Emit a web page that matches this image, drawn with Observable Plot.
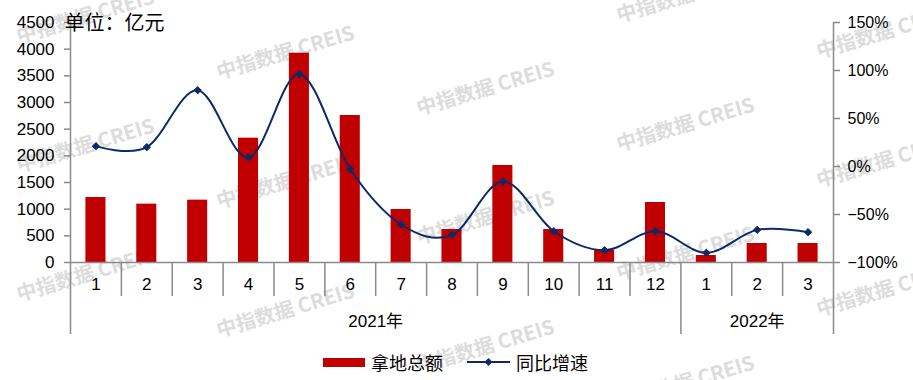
<!DOCTYPE html>
<html>
<head>
<meta charset="utf-8">
<script src="https://cdn.jsdelivr.net/npm/d3@7"></script>
<script src="https://cdn.jsdelivr.net/npm/@observablehq/plot@0.6"></script>
<style>
  html, body { margin: 0; padding: 0; background: #fff; }
  #wrap { position: relative; width: 913px; height: 380px; overflow: hidden; }
  #wm { position: absolute; left: 0; top: 0; width: 913px; height: 380px; z-index: 0; pointer-events: none; }
  #wm span { position: absolute; white-space: nowrap; transform: translate(-50%, -50%) rotate(-16.5deg);
    font: bold 20px "Noto Sans CJK SC", "Liberation Sans", sans-serif; color: #dcdcdc; }
  #chart { position: relative; z-index: 1; }
  #legend { position: absolute; left: 323px; top: 350px; height: 24px; z-index: 1; display: flex; align-items: center;
    font: 18px "Noto Sans CJK SC", sans-serif; color: #000; }
  #legend .sw { display: inline-block; width: 42px; height: 9px; background: #c00000; margin-right: 6px; }
  #legend .txt { margin-right: 24px; }
</style>
</head>
<body>
<div id="wrap">
  <div id="wm"></div>
  <div id="chart"></div>
  <div id="legend"></div>
</div>
<script>
// ---- data ----
const months = ["1","2","3","4","5","6","7","8","9","10","11","12","1","2","3"];
const landAmount = [1219, 1094, 1169, 2331, 3925, 2756, 994, 619, 1819, 619, 231, 1125, 131, 356, 356];
const yoyGrowth = [21.2, 20.1, 79.5, 9.4, 96.2, -2.8, -60.4, -71.2, -15.6, -67.4, -87.2, -67.4, -89.9, -66.0, -68.4];
const yearLabels = ["2021年", "2022年"];
const yearStart = [0, 12];
const yearEnd = [12, 15];
const leftTicks = [0, 500, 1000, 1500, 2000, 2500, 3000, 3500, 4000, 4500];
const rightTicks = [-100, -50, 0, 50, 100, 150];
const unitTitle = "单位：亿元";
const seriesNames = ["拿地总额", "同比增速"];
const watermarkText = "中指数据 CREIS";

// ---- layout / style ----
const W = 913, H = 340, mL = 70, mR = 80, mT = 22, mB = 78;
const frameH = H - mT - mB;
const gray = "#8a8a8a";
const red = "#c00000";
const navy = "#0c2a68";
const leftMax = 4500, rightMin = -100, rightMax = 150;
const toLeft = p => (p - rightMin) / (rightMax - rightMin) * leftMax;
const toPct = v => v / leftMax * (rightMax - rightMin) + rightMin;
const pctFmt = v => { const p = Math.round(toPct(v)); return (p < 0 ? "\u2212" + Math.abs(p) : p) + "%"; };

const rows = months.map((m, i) => ({i, month: m, amount: landAmount[i], yoy: yoyGrowth[i]}));
const yearRows = yearLabels.map((label, k) => ({label, start: yearStart[k], end: yearEnd[k]}));
const n = months.length;
const innerSeps = d3.range(1, n).filter(k => !yearStart.includes(k));
const groupSeps = yearStart.filter(k => k > 0);
const font = "'Liberation Sans', Arial, 'Noto Sans CJK SC', sans-serif";

const chart = Plot.plot({
  width: W, height: H,
  marginLeft: mL, marginRight: mR, marginTop: mT, marginBottom: mB,
  style: {fontFamily: font, fontSize: "17px", color: "#000", background: "transparent", overflow: "visible"},
  x: {domain: [0, n], axis: null},
  y: {domain: [0, leftMax], axis: null},
  marks: [
    Plot.rectY(rows, {x1: "i", x2: d => d.i + 1, y: "amount", insetLeft: 15.4, insetRight: 15.4, fill: red}),
    Plot.ruleY([0], {stroke: gray, strokeWidth: 1.5}),
    Plot.ruleX([0, n], {stroke: gray, strokeWidth: 1.5, insetBottom: -72}),
    Plot.ruleX(groupSeps, {stroke: gray, strokeWidth: 1.5, insetTop: frameH, insetBottom: -72}),
    Plot.ruleX(innerSeps, {stroke: gray, strokeWidth: 1.5, insetTop: frameH, insetBottom: -34}),
    Plot.axisY(leftTicks, {anchor: "left", label: null, tickSize: 6, tickPadding: 10, stroke: gray, strokeWidth: 1.5, fill: "#000", fontSize: 17, tickFormat: d => String(d)}),
    Plot.axisY(rightTicks.map(toLeft), {anchor: "right", label: null, tickSize: 6, tickPadding: 8, stroke: gray, strokeWidth: 1.5, fill: "#000", fontSize: 16, tickFormat: pctFmt}),
    Plot.line(rows, {x: d => d.i + 0.5, y: d => toLeft(d.yoy), curve: "cardinal", tension: 0, stroke: navy, strokeWidth: 2}),
    Plot.dot(rows, {x: d => d.i + 0.5, y: d => toLeft(d.yoy), symbol: "diamond2", r: 3.3, fill: navy, stroke: navy, strokeWidth: 1}),
    Plot.text(rows, {x: d => d.i + 0.5, text: "month", frameAnchor: "bottom", lineAnchor: "middle", dy: 22, fontSize: 17, fill: "#000"}),
    Plot.text(yearRows, {x: d => (d.start + d.end) / 2, text: "label", frameAnchor: "bottom", lineAnchor: "middle", dy: 59, fontSize: 17, fill: "#000"}),
    Plot.text([unitTitle], {text: d => d, frameAnchor: "top-left", textAnchor: "start", lineAnchor: "middle", dx: -6, dy: 1, fontSize: 20, fontFamily: "'Noto Sans CJK SC', sans-serif", fill: "#000"})
  ]
});
document.getElementById("chart").appendChild(chart);

// legend
const legend = document.getElementById("legend");
legend.innerHTML =
  `<span class="sw"></span><span class="txt">${seriesNames[0]}</span>` +
  `<svg width="43" height="12" style="margin-right:6px"><line x1="0" y1="6" x2="43" y2="6" stroke="${navy}" stroke-width="2"/>` +
  `<path d="M21.5,2 L25.5,6 L21.5,10 L17.5,6 Z" fill="${navy}"/></svg>` +
  `<span>${seriesNames[1]}</span>`;

// watermark (decoration)
const wm = document.getElementById("wm");
for (let c = 0; c < 5; c++) {
  for (let r = -1; r < 4; r++) {
    const cx = 85 + 200 * c;
    const cy = 15 + 36 * c + 129 * r - (c >= 3 ? 129 : 0);
    if (cy < -20 || cy > 392) continue;
    const s = document.createElement("span");
    s.textContent = watermarkText;
    s.style.left = cx + "px";
    s.style.top = cy + "px";
    wm.appendChild(s);
  }
}
</script>
</body>
</html>
